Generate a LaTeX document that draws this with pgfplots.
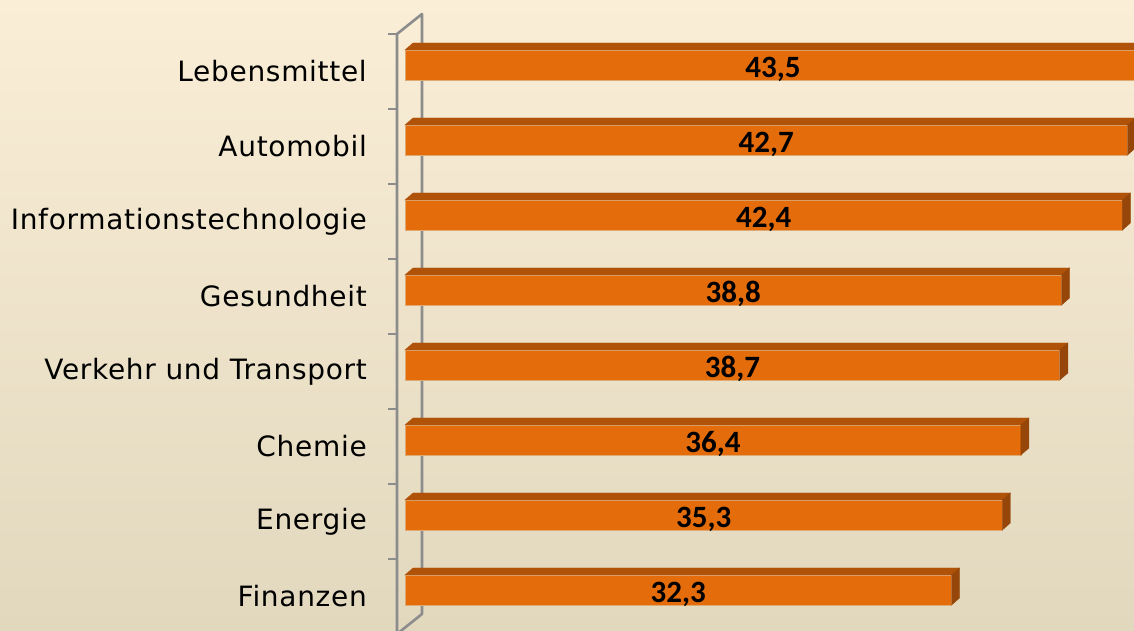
\documentclass[border=0pt]{standalone}
\usepackage{pgfplots}
\usepackage{pgfplotstable}
\pgfplotsset{compat=1.18}
\usepackage{fontspec}
\newfontfamily\labfont[LetterSpace=2.5]{DejaVu Sans}
\newfontfamily\valfont{Carlito}

\definecolor{bgtop}{RGB}{250,238,214}
\definecolor{bgbot}{RGB}{225,216,190}
\definecolor{barfront}{RGB}{228,108,10}
\definecolor{bartop}{RGB}{176,82,8}
\definecolor{barside}{RGB}{150,70,8}
\definecolor{barline}{RGB}{222,170,115}
\definecolor{wallgray}{RGB}{140,140,140}

% k = position from bottom, v = value
\pgfplotstableread{
k v
0 32.3
1 35.3
2 36.4
3 38.7
4 38.8
5 42.4
6 42.7
7 43.5
}\data

\begin{document}
\begin{tikzpicture}
\useasboundingbox (0,0) rectangle (1134pt,631pt);
\clip (0,0) rectangle (1134pt,631pt);
\shade[top color=bgtop, bottom color=bgbot] (0,0) rectangle (1134pt,631pt);
\begin{axis}[
    at={(397pt,-3pt)}, anchor=south west,
    scale only axis,
    x=16.92pt, y=75pt,
    xmin=-0.473, xmax=43.08,
    ymin=-0.5, ymax=7.5,
    clip=false,
    axis x line=none,
    axis y line*=left,
    axis line style={draw=none},
    ytick={0,...,7},
    yticklabels={Finanzen,Energie,Chemie,Verkehr und Transport,Gesundheit,Informationstechnologie,Automobil,Lebensmittel},
    minor ytick={-0.5,0.5,...,7.5},
    major tick length=0pt,
    minor tick length=9pt,
    tick align=outside,
    ytick pos=left,
    minor tick style={draw=wallgray, line width=2.6pt},
    yticklabel style={font=\labfont\fontsize{28}{30}\selectfont, text=black, inner sep=0pt, anchor=east, xshift=-30pt},
    /pgf/number format/assume math mode=true,
]
% wall
\draw[wallgray, line width=2.6pt, line join=round]
    (rel axis cs:0,0) -- (rel axis cs:0,1) -- ++(25pt,20pt)
    -- ([shift={(25pt,20pt)}]rel axis cs:0,0) -- cycle;

% front faces of the bars
\addplot[xbar, bar width=30pt, bar shift=6.5pt,
    fill=barfront, draw=barline, line width=0.8pt,
    point meta=x,
    visualization depends on={rawx \as \val},
    nodes near coords={\pgfmathprintnumber[use comma,fixed,fixed zerofill,precision=1]{\pgfplotspointmeta}},
    nodes near coords style={anchor=center, xshift={-\val*8.46pt}, yshift=2.5pt, text=black,
        font=\valfont\bfseries\fontsize{31}{32}\selectfont},
] table[x=v, y=k] {\data};

% top and side faces
\addplot[scatter, only marks, mark=*, mark size=0pt,
    visualization depends on={rawx \as \val},
    scatter/@pre marker code/.code={
        \fill[bartop] ({-\val*16.92pt},21.5pt) -- (0pt,21.5pt) -- (8pt,28.5pt) -- ({-\val*16.92pt+8pt},28.5pt) -- cycle;
        \fill[barside] (0pt,-8.5pt) -- (0pt,21.5pt) -- (8pt,28.5pt) -- (8pt,-1.5pt) -- cycle;
        \begin{scope}[draw=none, fill=none]
    },
    scatter/@post marker code/.code={\end{scope}},
] table[x=v, y=k] {\data};
\end{axis}
\end{tikzpicture}
\end{document}
